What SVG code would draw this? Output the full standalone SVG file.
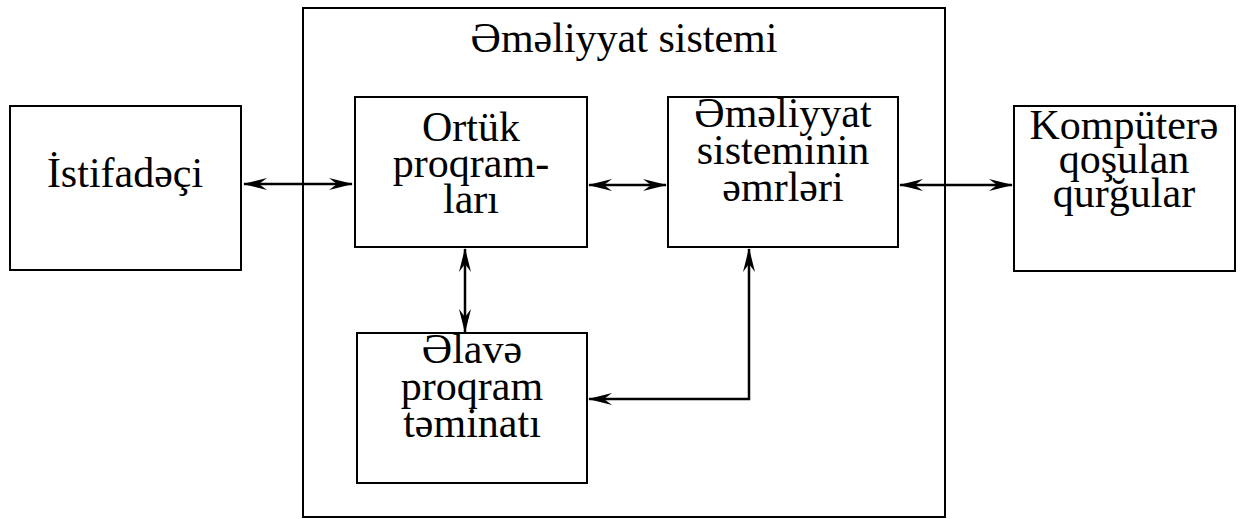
<svg xmlns="http://www.w3.org/2000/svg" width="1245" height="519" viewBox="0 0 1245 519">
  <style>
    .box { fill: #fff; stroke: #000; stroke-width: 2; }
    .outer { fill: none; stroke: #000; stroke-width: 2; }
    .lbl { font-family: "Liberation Serif", "DejaVu Serif", "Times New Roman", serif; font-size: 42px; fill: #000; text-anchor: middle; }
    .wire { fill: none; stroke: #000; stroke-width: 2.5; }
  </style>
  <defs>
    <!-- long, barbed arrowhead used on both ends of every link -->
    <marker id="head" viewBox="0 0 24 12" refX="23" refY="6" markerWidth="24" markerHeight="12" markerUnits="userSpaceOnUse" orient="auto-start-reverse">
      <path d="M0,0 L24,6 L0,12 L8,6 z" fill="#000"/>
    </marker>
  </defs>

  <rect width="1245" height="519" fill="#fff"/>

  <!-- operating system frame -->
  <g id="os">
    <rect class="outer" x="303" y="8" width="642" height="509"/>
    <text class="lbl" x="624" y="52">Əməliyyat sistemi</text>
  </g>

  <g id="user">
    <rect class="box" x="10" y="106" width="231" height="164"/>
    <text class="lbl" x="125" y="187">İstifadəçi</text>
  </g>

  <g id="shell">
    <rect class="box" x="355" y="97" width="232" height="150"/>
    <text class="lbl" x="471" y="141">Ortük</text>
    <text class="lbl" x="471" y="177">proqram-</text>
    <text class="lbl" x="471" y="213">ları</text>
  </g>

  <g id="commands">
    <rect class="box" x="668" y="97" width="230" height="150"/>
    <text class="lbl" x="783" y="127">Əməliyyat</text>
    <text class="lbl" x="783" y="164">sisteminin</text>
    <text class="lbl" x="783" y="201">əmrləri</text>
  </g>

  <g id="addons">
    <rect class="box" x="357" y="333" width="230" height="150"/>
    <text class="lbl" x="472" y="363">Əlavə</text>
    <text class="lbl" x="472" y="400">proqram</text>
    <text class="lbl" x="472" y="437">təminatı</text>
  </g>

  <g id="devices">
    <rect class="box" x="1014" y="106" width="221" height="165"/>
    <text class="lbl" x="1124" y="139">Kompüterə</text>
    <text class="lbl" x="1124" y="173">qoşulan</text>
    <text class="lbl" x="1124" y="207">qurğular</text>
  </g>

  <g id="connectors">
    <path class="wire" d="M244,184 L352,184" marker-start="url(#head)" marker-end="url(#head)"/>
    <path class="wire" d="M589,185 L666,185" marker-start="url(#head)" marker-end="url(#head)"/>
    <path class="wire" d="M900,185 L1012,185" marker-start="url(#head)" marker-end="url(#head)"/>
    <path class="wire" d="M465,249 L465,332" marker-start="url(#head)" marker-end="url(#head)"/>
    <path class="wire" d="M749,249 L749,399 L589,399" marker-start="url(#head)" marker-end="url(#head)"/>
  </g>
</svg>
